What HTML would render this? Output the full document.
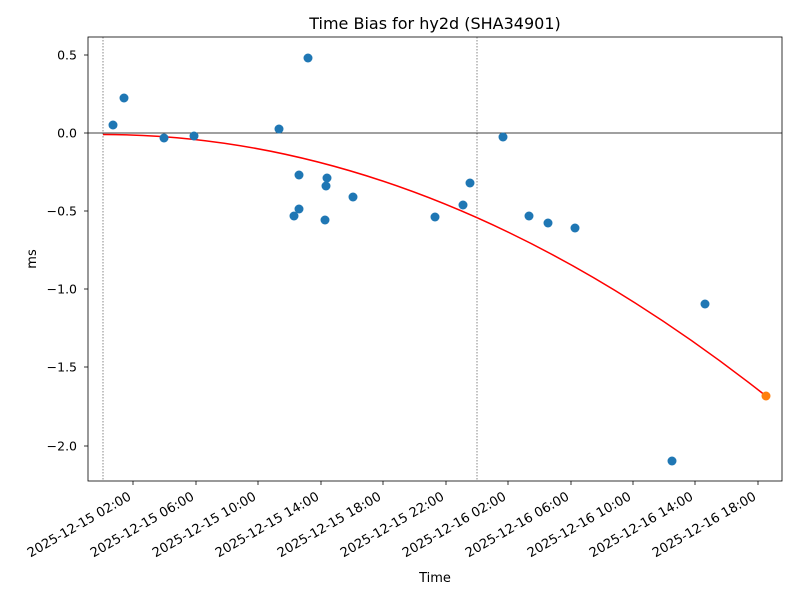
<!DOCTYPE html>
<html><head><meta charset="utf-8"><style>body{margin:0;background:#fff}svg{display:block}text{font-family:"DejaVu Sans","Liberation Sans",sans-serif;fill:#000}</style></head>
<body>
<svg width="800" height="600" viewBox="0 0 800 600">
<rect width="800" height="600" fill="#fff"/>
<text x="435" y="29" font-size="16" text-anchor="middle">Time Bias for hy2d (SHA34901)</text>
<line x1="103" y1="37" x2="103" y2="481" stroke="#555" stroke-width="0.7" stroke-dasharray="1.5,1.5"/>
<line x1="477" y1="37" x2="477" y2="481" stroke="#555" stroke-width="0.7" stroke-dasharray="1.5,1.5"/>
<line x1="88" y1="133" x2="782" y2="133" stroke="#000" stroke-width="0.8"/>
<path d="M103,134.5 Q434.5,134.5 766,396" fill="none" stroke="#ff0000" stroke-width="1.5"/>
<g fill="#1f77b4">
<circle cx="113" cy="125" r="4.5"/><circle cx="124" cy="98" r="4.5"/><circle cx="164" cy="138" r="4.5"/><circle cx="194" cy="136" r="4.5"/>
<circle cx="279" cy="129" r="4.5"/><circle cx="308" cy="58" r="4.5"/><circle cx="299" cy="175" r="4.5"/><circle cx="327" cy="178" r="4.5"/>
<circle cx="326" cy="186" r="4.5"/><circle cx="353" cy="197" r="4.5"/><circle cx="299" cy="209" r="4.5"/><circle cx="294" cy="216" r="4.5"/>
<circle cx="325" cy="220" r="4.5"/><circle cx="435" cy="217" r="4.5"/><circle cx="463" cy="205" r="4.5"/><circle cx="470" cy="183" r="4.5"/>
<circle cx="503" cy="137" r="4.5"/><circle cx="529" cy="216" r="4.5"/><circle cx="548" cy="223" r="4.5"/><circle cx="575" cy="228" r="4.5"/>
<circle cx="705" cy="304" r="4.5"/><circle cx="672" cy="461" r="4.5"/>
</g>
<circle cx="766" cy="396" r="4.5" fill="#ff7f0e"/>
<rect x="88" y="37" width="694" height="444" fill="none" stroke="#000" stroke-width="0.8"/>
<g stroke="#000" stroke-width="0.8">
<line x1="84" y1="55" x2="88" y2="55"/><line x1="84" y1="133" x2="88" y2="133"/><line x1="84" y1="211" x2="88" y2="211"/><line x1="84" y1="289" x2="88" y2="289"/><line x1="84" y1="367" x2="88" y2="367"/><line x1="84" y1="446" x2="88" y2="446"/>
<line x1="133" y1="481" x2="133" y2="485"/><line x1="196" y1="481" x2="196" y2="485"/><line x1="258" y1="481" x2="258" y2="485"/><line x1="321" y1="481" x2="321" y2="485"/><line x1="383" y1="481" x2="383" y2="485"/><line x1="446" y1="481" x2="446" y2="485"/><line x1="508" y1="481" x2="508" y2="485"/><line x1="571" y1="481" x2="571" y2="485"/><line x1="633" y1="481" x2="633" y2="485"/><line x1="695" y1="481" x2="695" y2="485"/><line x1="758" y1="481" x2="758" y2="485"/>
</g>
<g font-size="12.5" text-anchor="end">
<text x="77" y="59.5">0.5</text><text x="77" y="137.5">0.0</text><text x="77" y="215.5">−0.5</text><text x="77" y="293.5">−1.0</text><text x="77" y="371.5">−1.5</text><text x="77" y="450.5">−2.0</text>
</g>
<g font-size="13" text-anchor="end">
<text transform="translate(132,499) rotate(-30)">2025-12-15 02:00</text>
<text transform="translate(195,499) rotate(-30)">2025-12-15 06:00</text>
<text transform="translate(257,499) rotate(-30)">2025-12-15 10:00</text>
<text transform="translate(320,499) rotate(-30)">2025-12-15 14:00</text>
<text transform="translate(382,499) rotate(-30)">2025-12-15 18:00</text>
<text transform="translate(445,499) rotate(-30)">2025-12-15 22:00</text>
<text transform="translate(507,499) rotate(-30)">2025-12-16 02:00</text>
<text transform="translate(570,499) rotate(-30)">2025-12-16 06:00</text>
<text transform="translate(632,499) rotate(-30)">2025-12-16 10:00</text>
<text transform="translate(694,499) rotate(-30)">2025-12-16 14:00</text>
<text transform="translate(757,499) rotate(-30)">2025-12-16 18:00</text>
</g>
<text x="435" y="582" font-size="13" text-anchor="middle">Time</text>
<text transform="translate(36,259) rotate(-90)" font-size="13" text-anchor="middle">ms</text>
</svg>
</body></html>
